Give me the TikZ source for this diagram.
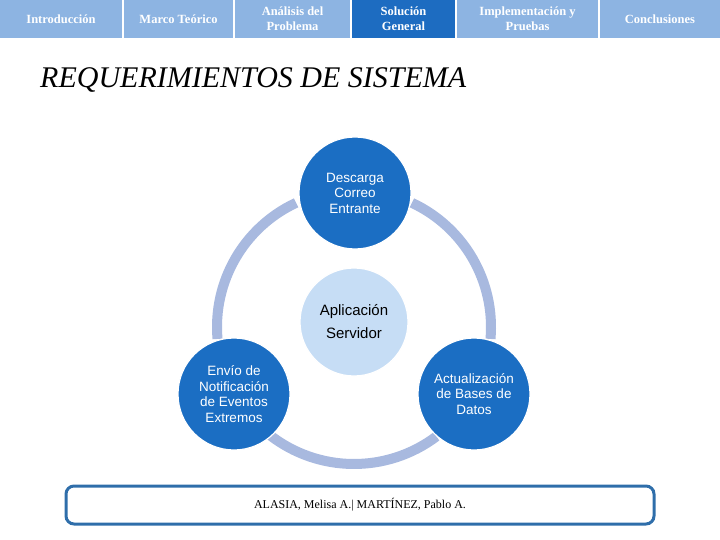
\documentclass[tikz,border=0pt]{standalone}
\usepackage{fontspec}
\setmainfont{Liberation Serif}
\newfontfamily\arialf{Liberation Sans}
\definecolor{tablight}{HTML}{8DB4E2}
\definecolor{tabdark}{HTML}{1D6CC1}
\definecolor{circdark}{HTML}{1B6EC3}
\definecolor{circlight}{HTML}{C6DDF5}
\definecolor{ringc}{HTML}{A8B9DF}
\definecolor{footb}{HTML}{2F6EAA}
\tikzset{
  tab/.style={fill=tablight, draw=none},
  tabsel/.style={fill=tabdark, draw=none},
  tabtext/.style={text=white, font=\bfseries\fontsize{12.5}{15}\selectfont, align=center, inner sep=0pt},
  bigcirc/.style={circle, fill=circdark, draw=white, line width=1.2pt, minimum size=112pt, inner sep=0pt, text=white, align=center, font=\arialf\fontsize{13.5}{15.5}\selectfont},
  midcirc/.style={circle, fill=circlight, draw=white, line width=1.2pt, minimum size=108pt, inner sep=0pt, text=black, align=center, font=\arialf\fontsize{15}{23}\selectfont},
  ringarc/.style={draw=ringc, line width=10pt},
}
\begin{document}
\begin{tikzpicture}[x=1pt,y=1pt]
\useasboundingbox (0,0) rectangle (720,-540);
% tabs
\fill[tab] (0,0) rectangle (122,-38);
\fill[tab] (124,0) rectangle (233,-38);
\fill[tab] (235,0) rectangle (350,-38);
\fill[tabsel] (352,0) rectangle (455,-38);
\fill[tab] (457,0) rectangle (598,-38);
\fill[tab] (600,0) rectangle (720,-38);
\node[tabtext] (t1) at (61,-19) {Introducción};
\node[tabtext] (t2) at (178.5,-19) {Marco Teórico};
\node[tabtext] (t3) at (292.5,-19) {Análisis del\\Problema};
\node[tabtext] (t4) at (403.5,-19) {Solución\\General};
\node[tabtext] (t5) at (527.5,-19) {Implementación y\\Pruebas};
\node[tabtext] (t6) at (660,-19) {Conclusiones};
% title
\node[anchor=base west, inner sep=0pt, font=\itshape\fontsize{30}{34}\selectfont] (title) at (40,-88) {REQUERIMIENTOS DE SISTEMA};
% ring
\coordinate (rc) at (354,-327);
\draw[ringarc] (rc) ++(65:137) arc[start angle=65, end angle=-5, radius=137];
\draw[ringarc] (rc) ++(-53:137) arc[start angle=-53, end angle=-128, radius=137];
\draw[ringarc] (rc) ++(185:137) arc[start angle=185, end angle=115, radius=137];
% circles
\node[bigcirc] (top) at (355,-193) {Descarga\\Correo\\Entrante};
\node[bigcirc] (bl) at (234,-394) {Envío de\\Notificación\\de Eventos\\Extremos};
\node[bigcirc] (br) at (474,-394) {Actualización\\de Bases de\\Datos};
\node[midcirc] (mid) at (354,-322) {Aplicación\\Servidor};
% footer
\draw[footb, line width=3pt, rounded corners=8pt] (66,-486) rectangle (654,-524);
\node[inner sep=0pt, font=\fontsize{12}{14}\selectfont] (foot) at (360,-505) {ALASIA, Melisa A.| MARTÍNEZ, Pablo A.};
\end{tikzpicture}
\end{document}
